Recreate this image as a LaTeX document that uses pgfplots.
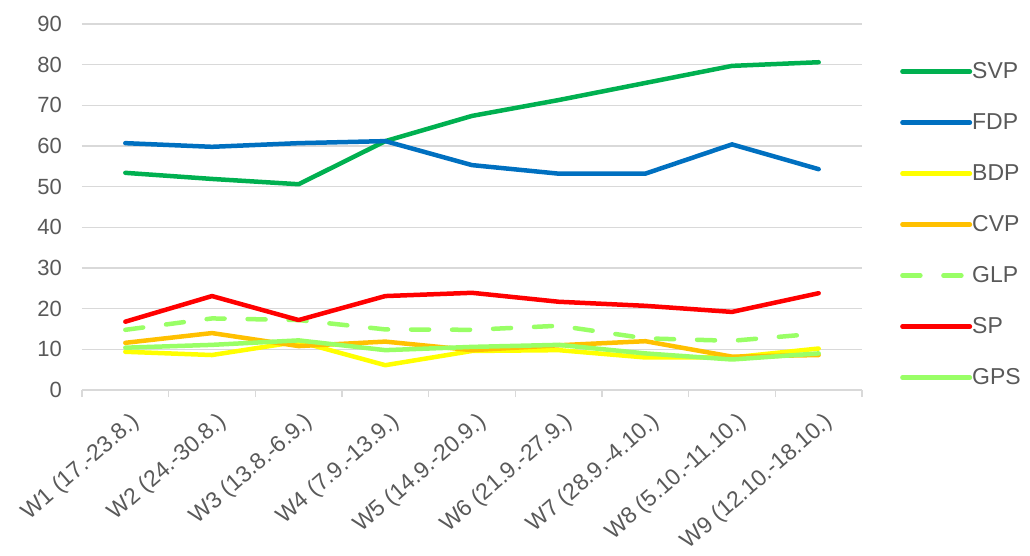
\documentclass[border=0pt]{standalone}
\usepackage{pgfplots}
\pgfplotsset{compat=1.18}
\usepackage{fontspec}
\setmainfont{Liberation Sans}
\definecolor{txt}{HTML}{595959}
\definecolor{grd}{HTML}{D9D9D9}
\definecolor{svp}{HTML}{00B050}
\definecolor{fdp}{HTML}{0070C0}
\definecolor{bdp}{HTML}{FFFF00}
\definecolor{cvp}{HTML}{FFC000}
\definecolor{glp}{HTML}{99FF66}
\definecolor{sp}{HTML}{FF0000}
\definecolor{gps}{HTML}{99FF66}
\begin{document}
\begin{tikzpicture}
\path[use as bounding box] (-82bp,-166bp) rectangle (948bp,390bp);
\begin{axis}[
  scale only axis, width=780bp, height=366bp,
  at={(0,0)}, anchor=south west,
  xmin=0.5, xmax=9.5, ymin=0, ymax=90,
  ytick={0,10,...,90},
  xtick={1,...,9},
  xticklabels={W1 (17.-23.8.),W2 (24.-30.8.),W3 (13.8.-6.9.),W4 (7.9.-13.9.),W5 (14.9.-20.9.),W6 (21.9.-27.9.),W7 (28.9.-4.10.),W8 (5.10.-11.10.),W9 (12.10.-18.10.)},
  extra x ticks={0.5,1.5,...,9.5},
  extra x tick labels={},
  extra x tick style={major tick length=7bp, tick align=outside, tick style={draw=grd, line width=1.3bp}},
  major tick length=0pt,
  ymajorgrids, grid style={draw=grd, line width=1.3bp},
  axis x line*=bottom, axis y line*=left,
  separate axis lines,
  x axis line style={draw=grd, line width=1.3bp, -},
  y axis line style={draw=none},
  tick label style={font=\fontsize{22bp}{26bp}\selectfont, text=txt},
  /pgf/number format/assume math mode=true,
  yticklabel style={inner sep=0pt, anchor=east, xshift=-20bp},
  xticklabel style={inner sep=0pt, xshift=4bp, yshift=-21bp, rotate=41, anchor=north east, font=\fontsize{23bp}{27bp}\selectfont},
  legend style={draw=none, fill=none, at={(axis description cs:1.0487,0.452)}, anchor=west,
    inner sep=0pt, row sep=30bp,
    font=\fontsize{23bp}{26bp}\selectfont, text=txt,
    nodes={inner sep=0pt, text height=17bp, text depth=4bp}},
  legend cell align=left,
  legend image code/.code={\draw[#1] (2.25bp,0bp) -- (69.75bp,0bp);},
  every axis plot/.append style={line width=4.5bp, line join=round},
  /tikz/every even column/.append style={column sep=12bp},
]
\addplot[svp, line cap=round] coordinates {(1,53.4)(2,51.9)(3,50.6)(4,61.2)(5,67.4)(6,71.3)(7,75.5)(8,79.7)(9,80.6)};
\addlegendentry{SVP}
\addplot[fdp, line cap=round] coordinates {(1,60.7)(2,59.8)(3,60.7)(4,61.2)(5,55.3)(6,53.2)(7,53.2)(8,60.4)(9,54.3)};
\addlegendentry{FDP}
\addplot[bdp, line cap=round] coordinates {(1,9.4)(2,8.6)(3,11.9)(4,6.1)(5,9.6)(6,9.8)(7,8.0)(8,8.0)(9,10.2)};
\addlegendentry{BDP}
\addplot[cvp, line cap=round] coordinates {(1,11.6)(2,14.0)(3,10.8)(4,11.9)(5,9.8)(6,11.0)(7,12.0)(8,8.2)(9,8.6)};
\addlegendentry{CVP}
\addplot[glp, line cap=round, dash pattern=on 18bp off 23bp] coordinates {(1,14.8)(2,17.6)(3,17.2)(4,14.9)(5,14.8)(6,15.8)(7,12.7)(8,12.1)(9,13.9)};
\addlegendentry{GLP}
\addplot[sp, line cap=round] coordinates {(1,16.8)(2,23.1)(3,17.2)(4,23.1)(5,23.9)(6,21.7)(7,20.7)(8,19.2)(9,23.8)};
\addlegendentry{SP}
\addplot[gps, line cap=round] coordinates {(1,10.4)(2,11.1)(3,12.2)(4,9.8)(5,10.6)(6,11.1)(7,9.0)(8,7.5)(9,9.0)};
\addlegendentry{GPS}
\end{axis}
\end{tikzpicture}
\end{document}
